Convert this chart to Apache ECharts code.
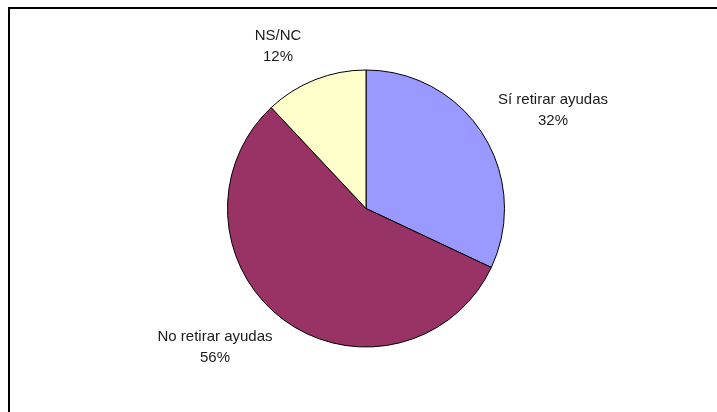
<!DOCTYPE html>
<html>
<head>
<meta charset="utf-8">
<script src="https://cdn.jsdelivr.net/npm/echarts@6/dist/echarts.min.js"></script>
<style>html,body{margin:0;padding:0;background:#fff}#c{width:717px;height:412px}</style>
</head>
<body>
<div id="c"></div>
<script>
var categories = ['Sí retirar ayudas', 'No retirar ayudas', 'NS/NC'];
var values = [32, 56, 12];
var colors = ['#9999FF', '#993366', '#FFFFCC'];
var labelCenters = [[553, 110], [215, 347], [278, 46]];

var chart = echarts.init(document.getElementById('c'), null, {renderer: 'canvas'});
chart.setOption({
  animation: false,
  backgroundColor: '#fff',
  graphic: [{
    type: 'polyline',
    shape: {points: [[9, 412], [9, 8], [717, 8]]},
    style: {stroke: '#000', lineWidth: 2, fill: null}
  }],
  series: [{
    type: 'pie',
    center: [366, 208.5],
    radius: 138.5,
    startAngle: 90,
    clockwise: true,
    avoidLabelOverlap: false,
    data: categories.map(function (c, i) {
      return {name: c, value: values[i], itemStyle: {color: colors[i]}};
    }),
    itemStyle: {borderColor: '#000', borderWidth: 1},
    emphasis: {disabled: true},
    label: {
      show: true,
      position: 'outside',
      formatter: '{b}\n{d}%',
      fontFamily: 'Liberation Sans, Arial, sans-serif',
      fontSize: 15,
      lineHeight: 21,
      color: '#1a1a1a',
      align: 'center'
    },
    labelLine: {show: false},
    labelLayout: function (p) {
      var c = labelCenters[p.dataIndex];
      return {x: c[0], y: c[1], align: 'center', verticalAlign: 'middle'};
    }
  }]
});
</script>
</body>
</html>
